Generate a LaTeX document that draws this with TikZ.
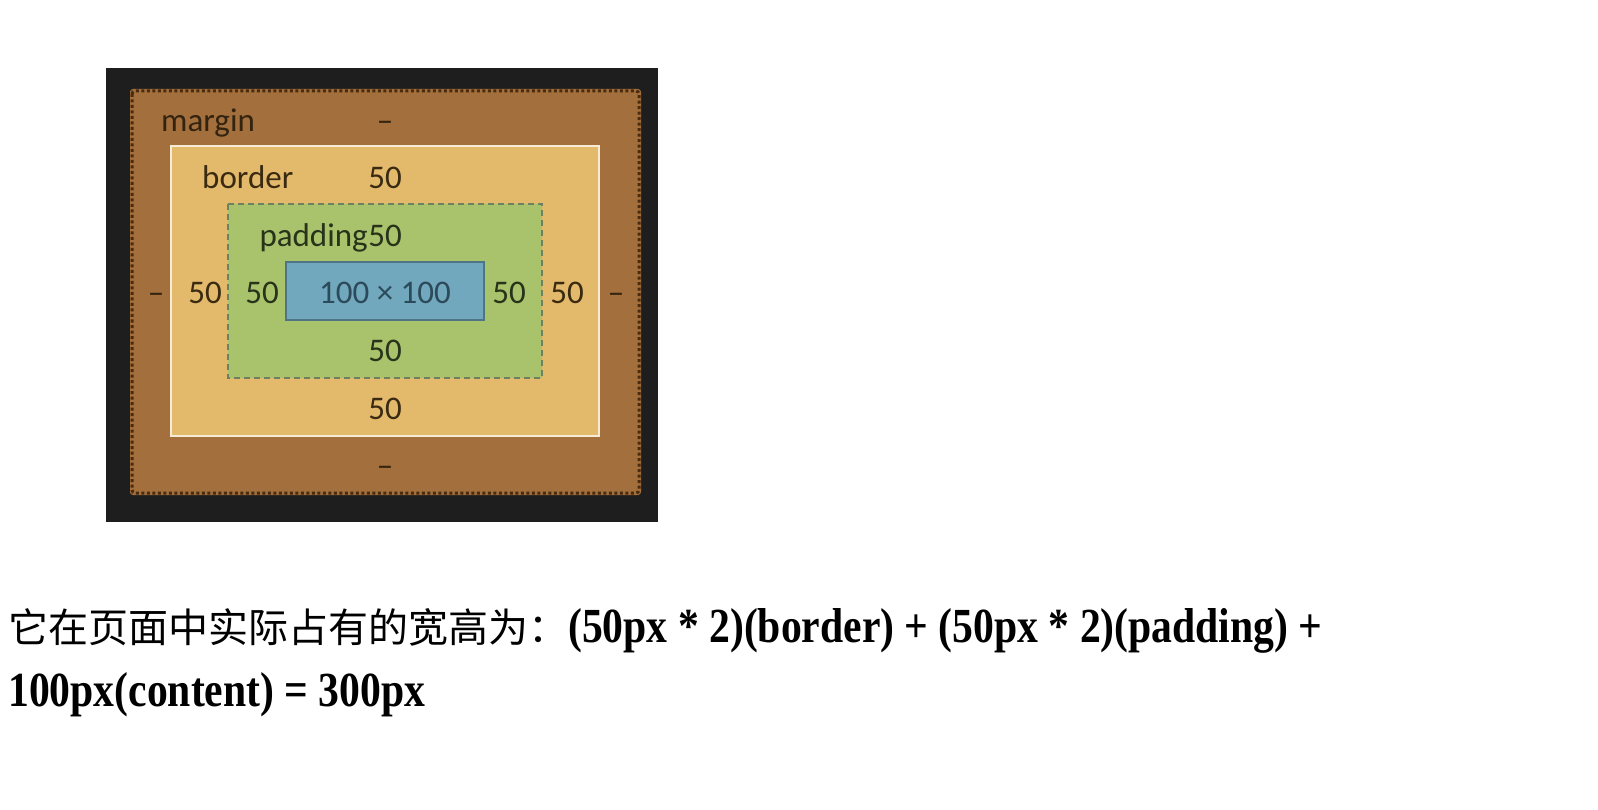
\documentclass[tikz,border=0pt]{standalone}
\usepackage{fontspec}
\setmainfont{Carlito}
\newfontfamily\cjk{Noto Sans CJK SC}
\newfontfamily\boldser[FakeStretch=0.85]{Liberation Serif}
\definecolor{darkbg}{HTML}{1E1E1E}
\definecolor{marginfill}{HTML}{A26F3D}
\definecolor{marginedge}{HTML}{4A2B0E}
\definecolor{borderfill}{HTML}{E3B96B}
\definecolor{borderedge}{HTML}{F7EBD6}
\definecolor{padfill}{HTML}{A9C26C}
\definecolor{padedge}{HTML}{6D8060}
\definecolor{contfill}{HTML}{72A8BD}
\definecolor{contedge}{HTML}{4D7585}
\definecolor{mtxt}{HTML}{33230F}
\definecolor{btxt}{HTML}{3A2A12}
\definecolor{ptxt}{HTML}{28331A}
\definecolor{ctxt}{HTML}{2B4A5A}
\tikzset{
  lbl/.style={font=\fontsize{33}{40}\selectfont, inner sep=0pt, anchor=base},
  lblw/.style={lbl, anchor=base west},
  bottomtxt/.style={inner sep=0pt, anchor=base west, text=black}
}
\begin{document}
\begin{tikzpicture}[x=1pt,y=-1pt]
\useasboundingbox[fill=white] (0,0) rectangle (1598,810);
% dark panel
\fill[darkbg] (106,68) rectangle (658,522);
% margin box
\fill[marginfill, rounded corners=3pt] (130,89) rectangle (641,495);
\draw[draw=marginedge, line width=3pt, dash pattern=on 3pt off 2.5pt, rounded corners=3pt] (132,91) rectangle (639,493);
% border box
\draw[fill=borderfill, draw=borderedge, line width=2.5pt] (171,146) rectangle (599,436);
% padding box
\draw[fill=padfill, draw=padedge, line width=1.6pt, dash pattern=on 6pt off 4pt] (228,204) rectangle (542,378);
% content box
\draw[fill=contfill, draw=contedge, line width=1.6pt] (286,262) rectangle (484,320);
% margin labels
\node[lblw, text=mtxt] (mlab) at (161,131.5) {margin};
\node[lbl, text=mtxt] (mtop) at (385,131.5) {–};
\node[lbl, text=mtxt] (mleft) at (156,303.5) {–};
\node[lbl, text=mtxt] (mright) at (616,303.5) {–};
\node[lbl, text=mtxt] (mbot) at (385,476.5) {–};
% border labels
\node[lblw, text=btxt] (blab) at (202,189) {border};
\node[lbl, text=btxt] (btop) at (385,189) {50};
\node[lbl, text=btxt] (bleft) at (205,303.5) {50};
\node[lbl, text=btxt] (bright) at (567,303.5) {50};
\node[lbl, text=btxt] (bbot) at (385,419) {50};
% padding labels
\node[lbl, anchor=base east, text=ptxt] (plab) at (368,246.5) {padding};
\node[lbl, text=ptxt] (ptop) at (385,246.5) {50};
\node[lbl, text=ptxt] (pleft) at (262,303.5) {50};
\node[lbl, text=ptxt] (pright) at (509,303.5) {50};
\node[lbl, text=ptxt] (pbot) at (385,361.5) {50};
% content label
\node[lbl, text=ctxt] (clab) at (385,303.5) {100 × 100};
% bottom text
\node[bottomtxt] (line1) at (8,642) {{\cjk\fontsize{40}{48}\selectfont 它在页面中实际占有的宽高为：}{\boldser\bfseries\fontsize{49}{58}\selectfont (50px * 2)(border) + (50px * 2)(padding) +}};
\node[bottomtxt] (line2) at (8,706) {\boldser\bfseries\fontsize{49}{58}\selectfont 100px(content) = 300px};
\end{tikzpicture}
\end{document}
